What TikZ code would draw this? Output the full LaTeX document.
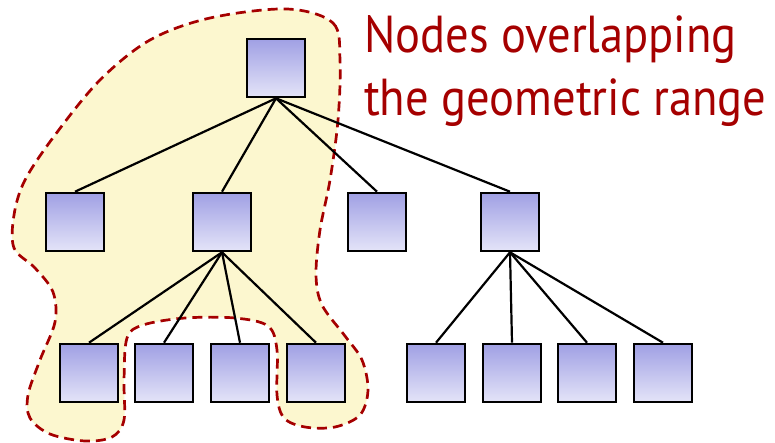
\documentclass[tikz,border=0pt]{standalone}
\usepackage{fontspec}
\newfontfamily\labfont[FakeStretch=0.895]{PT Sans}
\usetikzlibrary{shadows}
\definecolor{blobfill}{RGB}{252,247,207}
\definecolor{blobline}{RGB}{165,0,0}
\definecolor{labred}{RGB}{165,0,0}
\definecolor{boxtop}{RGB}{160,160,228}
\definecolor{boxbot}{RGB}{228,228,248}
\tikzset{
  box/.style={draw=black, line width=2.6pt, minimum size=58pt, inner sep=0pt,
    top color=boxtop, bottom color=boxbot,
    drop shadow={shadow xshift=1.2pt, shadow yshift=-1.2pt, fill=gray, opacity=0.5}},
  edge/.style={draw=black, line width=2.2pt},
  region/.style={fill=blobfill, draw=blobline, line width=2.7pt, dash pattern=on 10pt off 6pt},
  lab/.style={text=labred, font=\labfont\fontsize{52}{60}\selectfont, inner sep=0pt}
}
\begin{document}
\begin{tikzpicture}[x=1pt,y=-1pt]
\useasboundingbox (0,0) rectangle (775,442);
% region
\path[region] plot[smooth cycle, tension=0.55] coordinates {
 (287,9) (333,23) (340,60) (338,120) (330,180) (320,230) (316,275) (322,305)
 (345,336) (362,360) (368,390) (360,415) (335,427) (305,427) (284,418) (277,395)
 (277,350) (268,326) (235,318) (185,318) (143,325) (127,338) (124,380) (124,420)
 (112,437) (85,441) (50,434) (30,418) (28,395) (40,360) (55,322) (53,292)
 (35,268) (14,248) (14,215) (25,180) (55,135) (100,80) (150,40) (210,18)};
% nodes
\node[box] (r) at (276,68) {};
\node[box] (a) at (75,222) {};
\node[box] (b) at (222,222) {};
\node[box] (c) at (377,222) {};
\node[box] (d) at (510,222) {};
\node[box] (b1) at (89,373) {};
\node[box] (b2) at (164,373) {};
\node[box] (b3) at (240,373) {};
\node[box] (b4) at (316,373) {};
\node[box] (d1) at (436,373) {};
\node[box] (d2) at (512,373) {};
\node[box] (d3) at (587,373) {};
\node[box] (d4) at (663,373) {};
% edges
\foreach \t in {a,b,c,d} \draw[edge] (r.south) -- (\t.north);
\foreach \t in {b1,b2,b3,b4} \draw[edge] (b.south) -- (\t.north);
\foreach \t in {d1,d2,d3,d4} \draw[edge] (d.south) -- (\t.north);
% label
\node[lab, anchor=base west] (l1) at (364,52) {Nodes overlapping};
\node[lab, anchor=base west] (l2) at (364,115) {the geometric range};
\end{tikzpicture}
\end{document}
